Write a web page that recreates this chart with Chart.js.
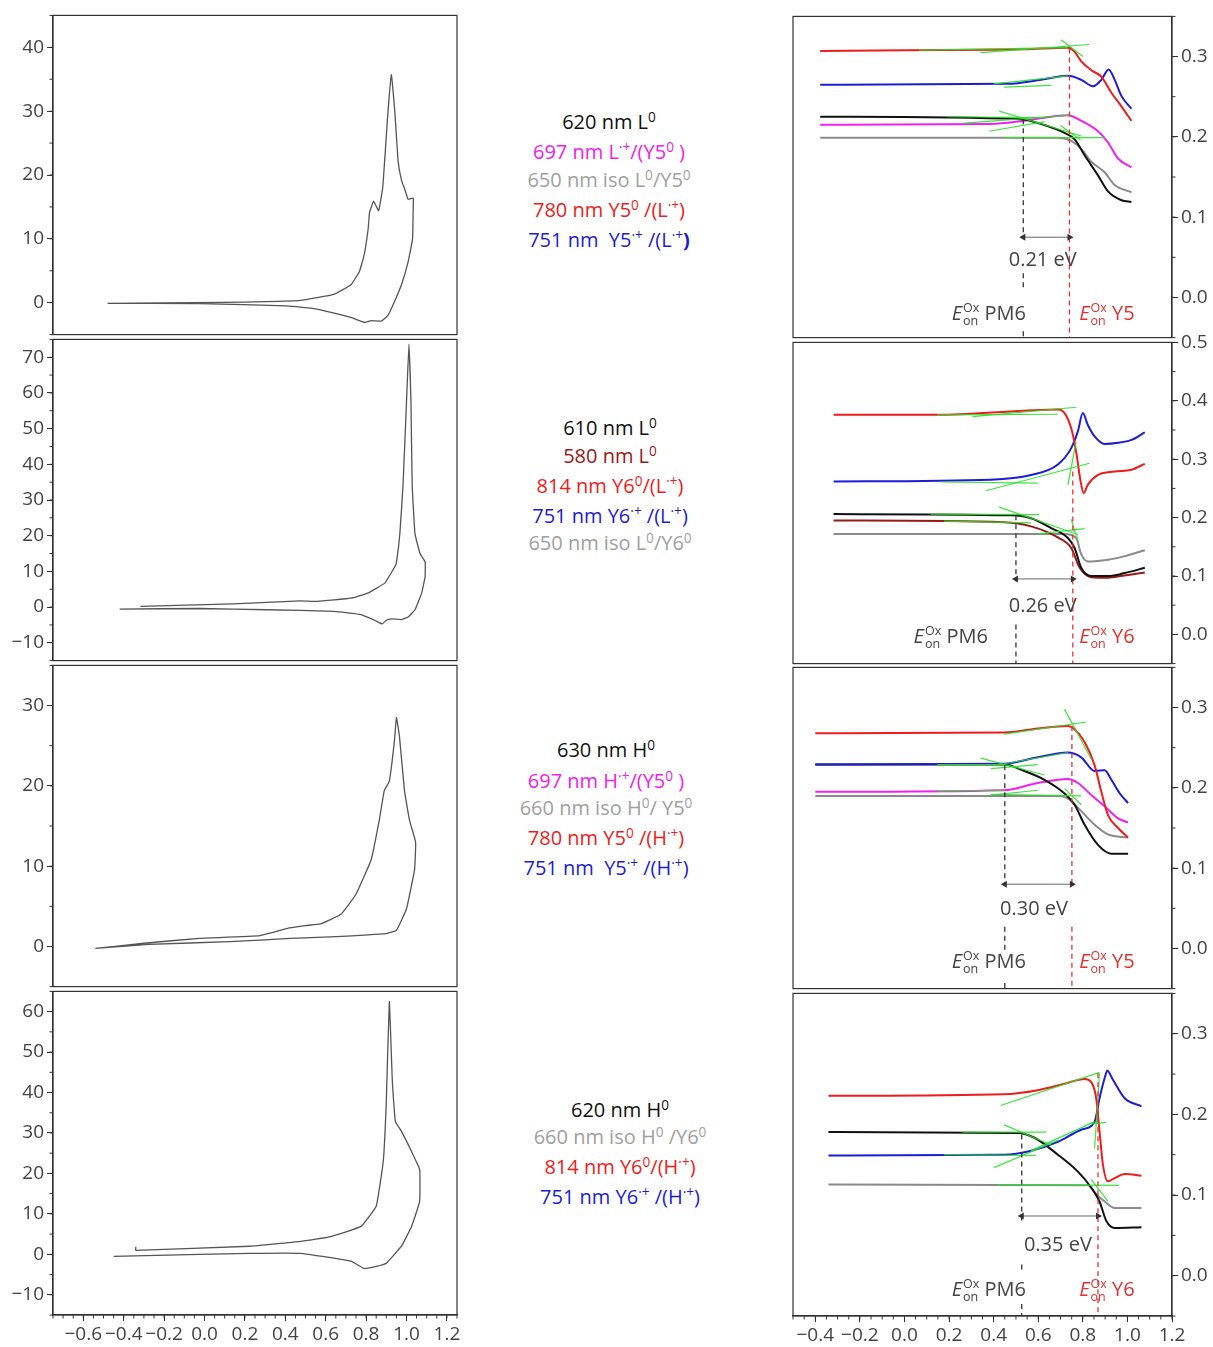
<!DOCTYPE html>
<html>
<head>
<meta charset="utf-8">
<script src="https://cdn.jsdelivr.net/npm/chart.js@4.4.1/dist/chart.umd.min.js"></script>
<style>
body { margin: 0; background: #fff; width: 1213px; height: 1347px; position: relative; overflow: hidden; font-family: "Open Sans", sans-serif; }
canvas { position: absolute; }
.lg { position: absolute; width: 300px; text-align: center; font-size: 20px; line-height: 28px; white-space: nowrap; }
.lg sup { font-size: 0.68em; vertical-align: 0; position: relative; top: -0.55em; line-height: 0; }
</style>
</head>
<body>
<script>
// ---- CV curves (left column), [potential V, current] ----
const cvRow1 = [[-0.48,-0.1],[-0.2,-0.05],[0.1,0.05],[0.3,0.15],[0.475,0.35],[0.64,1.3],[0.725,2.8],[0.767,4.9],[0.79,7.4],[0.81,11.5],[0.817,14.1],[0.837,15.9],[0.862,14.4],[0.883,18.2],[0.905,28.5],[0.925,35.7],[0.942,30],[0.958,22.3],[0.975,19.2],[0.992,17.7],[1.008,16.2],[1.033,16.4],[1.033,14.6],[1.03,10],[1.008,6.4],[0.975,2.8],[0.942,0.26],[0.908,-2.0],[0.875,-2.9],[0.825,-2.8],[0.792,-3.1],[0.725,-2.3],[0.558,-1.0],[0.408,-0.5],[-0.025,-0.15],[-0.48,-0.1]];
const cvRow2 = [[-0.317,0.2],[0.142,0.9],[0.475,1.75],[0.558,1.6],[0.725,2.5],[0.808,3.9],[0.892,6.7],[0.942,11.3],[0.95,12.4],[0.967,20.5],[0.983,34.4],[1.0,57.5],[1.012,73.7],[1.022,57.5],[1.028,34.4],[1.042,20.5],[1.067,15],[1.092,12.7],[1.092,8.5],[1.075,3.9],[1.042,-0.75],[1.008,-2.8],[0.975,-3.5],[0.925,-3.3],[0.9,-3.7],[0.88,-4.7],[0.842,-3.7],[0.775,-2.1],[0.642,-1.2],[0.308,-0.75],[-0.025,-0.4],[-0.42,-0.55]];
const cvRow3 = [[-0.54,-0.25],[-0.3,0.4],[-0.025,1.0],[0.275,1.35],[0.42,2.3],[0.5,2.6],[0.575,2.8],[0.675,4.0],[0.75,6.5],[0.825,10.8],[0.865,15.7],[0.89,19.4],[0.915,20.6],[0.94,25.5],[0.95,28.5],[0.965,26.2],[0.99,19.4],[1.015,15.7],[1.045,13.0],[1.04,9.6],[1.0,4.7],[0.95,2.0],[0.9,1.6],[0.625,1.2],[0.425,1.0],[0.125,0.6],[-0.275,0.25],[-0.54,-0.25]];
const cvRow4 = [[-0.34,1.9],[-0.34,1.0],[0.225,2.0],[0.475,3.2],[0.625,4.4],[0.775,6.9],[0.85,11.9],[0.885,23],[0.9,37.8],[0.915,62.5],[0.93,42.7],[0.945,32.8],[0.975,30.4],[1.025,25.4],[1.065,21.0],[1.065,13.1],[1.025,6.9],[0.975,2.0],[0.9,-2.2],[0.85,-3.0],[0.79,-3.5],[0.725,-1.7],[0.475,0.25],[0.225,0.25],[-0.025,0],[-0.45,-0.5]];
const cvRanges = [[-5,45],[-15,75],[-5,35],[-15,65]];
const cvTicks = [[0,10,20,30,40],[-10,0,10,20,30,40,50,60,70],[0,10,20,30],[-10,0,10,20,30,40,50,60]];
const cvXTicks = [-0.6,-0.4,-0.2,0.0,0.2,0.4,0.6,0.8,1.0,1.2];

// ---- absorbance vs potential (right column) ----
const r1Red = [[-0.378,0.307],[0.0,0.308],[0.537,0.309],[0.733,0.311],[0.763,0.306],[0.793,0.294],[0.838,0.283],[0.883,0.275],[0.928,0.255],[0.973,0.238],[1.018,0.220]];
const r1Blue = [[-0.378,0.265],[0.463,0.266],[0.613,0.271],[0.733,0.276],[0.793,0.271],[0.846,0.263],[0.883,0.271],[0.916,0.284],[0.943,0.271],[0.973,0.251],[1.018,0.235]];
const r1Black = [[-0.378,0.225],[0.523,0.222],[0.613,0.216],[0.718,0.205],[0.763,0.197],[0.808,0.177],[0.868,0.152],[0.913,0.132],[0.973,0.121],[1.018,0.119]];
const r1Magenta = [[-0.378,0.215],[0.387,0.216],[0.537,0.220],[0.733,0.227],[0.793,0.220],[0.868,0.207],[0.913,0.193],[0.958,0.173],[1.018,0.162]];
const r1Gray = [[-0.378,0.199],[0.688,0.199],[0.748,0.195],[0.793,0.185],[0.838,0.169],[0.898,0.156],[0.943,0.140],[1.018,0.131]];

const r2Red = [[-0.318,0.376],[0.147,0.376],[0.537,0.383],[0.688,0.385],[0.718,0.379],[0.748,0.353],[0.770,0.313],[0.79,0.262],[0.804,0.242],[0.822,0.256],[0.868,0.273],[0.943,0.279],[1.018,0.282],[1.078,0.292]];
const r2Blue = [[-0.318,0.262],[0.387,0.265],[0.568,0.273],[0.688,0.291],[0.748,0.319],[0.778,0.348],[0.80,0.379],[0.822,0.359],[0.853,0.339],[0.898,0.326],[0.958,0.328],[1.018,0.333],[1.078,0.346]];
const r2Black = [[-0.318,0.206],[0.477,0.204],[0.568,0.199],[0.658,0.182],[0.733,0.165],[0.763,0.148],[0.793,0.114],[0.838,0.1],[0.913,0.1],[0.988,0.105],[1.078,0.114]];
const r2DarkRed = [[-0.318,0.195],[0.447,0.192],[0.568,0.185],[0.688,0.166],[0.748,0.148],[0.786,0.114],[0.838,0.098],[0.913,0.097],[0.988,0.101],[1.078,0.106]];
const r2Gray = [[-0.318,0.172],[0.718,0.172],[0.770,0.165],[0.793,0.137],[0.822,0.125],[0.913,0.128],[0.988,0.134],[1.078,0.144]];

const r3Red = [[-0.40,0.268],[0.447,0.269],[0.598,0.274],[0.733,0.277],[0.763,0.273],[0.808,0.257],[0.853,0.228],[0.883,0.195],[0.913,0.166],[0.958,0.150],[1.003,0.138]];
const r3Blue = [[-0.40,0.229],[0.447,0.230],[0.598,0.238],[0.733,0.244],[0.793,0.238],[0.853,0.221],[0.898,0.222],[0.928,0.210],[0.966,0.193],[1.003,0.181]];
const r3Black = [[-0.40,0.229],[0.447,0.229],[0.537,0.221],[0.628,0.210],[0.718,0.193],[0.763,0.179],[0.808,0.154],[0.868,0.129],[0.928,0.118],[1.003,0.118]];
const r3Magenta = [[-0.40,0.195],[0.447,0.197],[0.598,0.206],[0.733,0.211],[0.778,0.206],[0.838,0.191],[0.898,0.177],[0.958,0.162],[1.003,0.157]];
const r3Gray = [[-0.40,0.190],[0.688,0.190],[0.733,0.187],[0.793,0.171],[0.853,0.154],[0.913,0.142],[1.003,0.138]];

const r4Red = [[-0.341,0.223],[0.447,0.225],[0.598,0.230],[0.718,0.238],[0.808,0.244],[0.838,0.240],[0.860,0.220],[0.875,0.179],[0.890,0.138],[0.913,0.117],[0.943,0.121],[0.988,0.126],[1.063,0.124]];
const r4Blue = [[-0.341,0.149],[0.447,0.150],[0.568,0.155],[0.688,0.166],[0.793,0.181],[0.853,0.191],[0.875,0.220],[0.898,0.245],[0.910,0.254],[0.935,0.243],[0.988,0.220],[1.063,0.210]];
const r4Black = [[-0.341,0.178],[0.508,0.177],[0.583,0.171],[0.688,0.150],[0.778,0.129],[0.838,0.109],[0.875,0.092],[0.905,0.068],[0.943,0.059],[1.063,0.060]];
const r4Gray = [[-0.341,0.113],[0.823,0.112],[0.860,0.101],[0.898,0.092],[0.943,0.084],[1.063,0.084]];

// green tangent lines, [[x1,y1],[x2,y2]]
const r1Tangents = [[[0.342,0.305],[0.830,0.315]],[[0.703,0.321],[0.80,0.300]],[[0.065,0.308],[0.733,0.311]],[[0.447,0.262],[0.658,0.264]],[[0.40,0.266],[0.733,0.276]],[[0.192,0.225],[0.628,0.224]],[[0.425,0.232],[0.793,0.201]],[[0.380,0.207],[0.628,0.219]],[[0.267,0.217],[0.748,0.227]],[[0.447,0.199],[0.898,0.199]],[[0.70,0.214],[0.79,0.196]]];
const r2Tangents = [[[0.147,0.376],[0.688,0.377]],[[0.305,0.373],[0.770,0.389]],[[0.162,0.261],[0.598,0.259]],[[0.365,0.246],[0.830,0.293]],[[0.733,0.256],[0.770,0.330]],[[0.117,0.206],[0.605,0.205]],[[0.425,0.218],[0.778,0.171]],[[0.177,0.194],[0.568,0.191]],[[0.598,0.172],[0.808,0.181]],[[0.748,0.197],[0.778,0.160]]];
const r3Tangents = [[[0.447,0.267],[0.815,0.282]],[[0.718,0.298],[0.838,0.236]],[[0.342,0.237],[0.628,0.216]],[[0.387,0.224],[0.598,0.229]],[[0.147,0.229],[0.447,0.229]],[[0.387,0.192],[0.793,0.190]],[[0.387,0.191],[0.598,0.197]],[[0.718,0.199],[0.793,0.179]],[[0.447,0.230],[0.733,0.244]],[[0.147,0.196],[0.447,0.197]]];
const r4Tangents = [[[0.432,0.211],[0.875,0.252]],[[0.853,0.158],[0.875,0.251]],[[0.447,0.187],[0.658,0.162]],[[0.26,0.178],[0.635,0.178]],[[0.402,0.134],[0.688,0.168]],[[0.177,0.150],[0.590,0.149]],[[0.838,0.188],[0.905,0.190]],[[0.417,0.113],[0.963,0.112]],[[0.838,0.119],[0.913,0.092]],[[0.568,0.155],[0.853,0.191]]];

// onset potentials and the gap annotation
const pm6Onset = [0.533, 0.50, 0.45, 0.526];
const accOnset = [0.740, 0.755, 0.751, 0.868];
const pm6DashY = [[[0.222,0.074],[0.03,0.008],[-0.042,-0.05]], [[0.204,0.091],[0.017,-0.05]], [[0.228,0.080],[0.027,-0.006],[-0.043,-0.05]], [[0.175,0.064],[0.014,0.006],[-0.035,-0.05]]];
const accDashY = [[[0.31,-0.05]], [[0.279,-0.05]], [[0.277,0.080],[0.027,-0.05]], [[0.251,-0.05]]];
const arrowY = [0.075, 0.095, 0.080, 0.074];
const gapLabels = ['0.21 eV', '0.26 eV', '0.30 eV', '0.35 eV'];
const gapLabelPos = [[0.620,0.046],[0.620,0.048],[0.581,0.049],[0.688,0.038]];
const pm6LabelPos = [[0.545,-0.019],[0.374,-0.003],[0.545,-0.016],[0.545,-0.016]];
const accNames = ['Y5', 'Y6', 'Y5', 'Y6'];
const accLabelX = 0.784;
const specRanges = [[-0.05,0.35],[-0.05,0.5],[-0.05,0.35],[-0.05,0.35]];
const specTicks = [[0,0.1,0.2,0.3],[0,0.1,0.2,0.3,0.4,0.5],[0,0.1,0.2,0.3],[0,0.1,0.2,0.3]];
const specXTicks = [-0.4,-0.2,0.0,0.2,0.4,0.6,0.8,1.0,1.2];

const RED = '#ee1c1c', BLUE = '#1c1cd8', BLACK = '#111', MAGENTA = '#f020f0', GRAY = '#8a8a8a', DARKRED = '#9a1818';
const GREEN = 'rgba(40,225,40,0.9)';

const specCurves = [
    [[r1Gray, GRAY], [r1Magenta, MAGENTA], [r1Black, BLACK], [r1Blue, BLUE], [r1Red, RED]],
    [[r2Gray, GRAY], [r2DarkRed, DARKRED], [r2Black, BLACK], [r2Blue, BLUE], [r2Red, RED]],
    [[r3Gray, GRAY], [r3Magenta, MAGENTA], [r3Black, BLACK], [r3Blue, BLUE], [r3Red, RED]],
    [[r4Gray, GRAY], [r4Black, BLACK], [r4Blue, BLUE], [r4Red, RED]]
];
const specTangents = [r1Tangents, r2Tangents, r3Tangents, r4Tangents];
const cvData = [cvRow1, cvRow2, cvRow3, cvRow4];

// middle legend lines: [center y, center x, colour, html]
const legendLines = [
    [122, 609, BLACK, '620 nm L<sup>0</sup>'],
    [152, 609, MAGENTA, '697 nm L<sup>·+</sup>/(Y5<sup>0</sup> )'],
    [180, 609, '#a0a0a0', '650 nm iso L<sup>0</sup>/Y5<sup>0</sup>'],
    [210, 609, RED, '780 nm Y5<sup>0</sup> /(L<sup>·+</sup>)'],
    [240, 609, BLUE, '751 nm&nbsp; Y5<sup>·+</sup> /(L<sup>·+</sup><b>)</b>'],
    [428, 610, BLACK, '610 nm L<sup>0</sup>'],
    [456, 610, DARKRED, '580 nm L<sup>0</sup>'],
    [486, 610, RED, '814 nm Y6<sup>0</sup>/(L<sup>·+</sup>)'],
    [516, 610, BLUE, '751 nm Y6<sup>·+</sup> /(L<sup>·+</sup>)'],
    [543, 610, '#a0a0a0', '650 nm iso L<sup>0</sup>/Y6<sup>0</sup>'],
    [750, 606, BLACK, '630 nm H<sup>0</sup>'],
    [781, 606, MAGENTA, '697 nm H<sup>·+</sup>/(Y5<sup>0</sup> )'],
    [808, 606, '#a0a0a0', '660 nm iso H<sup>0</sup>/ Y5<sup>0</sup>'],
    [838, 606, RED, '780 nm Y5<sup>0</sup> /(H<sup>·+</sup>)'],
    [868, 606, BLUE, '751 nm&nbsp; Y5<sup>·+</sup> /(H<sup>·+</sup>)'],
    [1110, 620, BLACK, '620 nm H<sup>0</sup>'],
    [1137, 620, '#a0a0a0', '660 nm iso H<sup>0</sup> /Y6<sup>0</sup>'],
    [1167, 620, RED, '814 nm Y6<sup>0</sup>/(H<sup>·+</sup>)'],
    [1197, 620, BLUE, '751 nm Y6<sup>·+</sup> /(H<sup>·+</sup>)']
];

const leftFrames = [[12.7,336.7],[336.7,663],[663,989],[989,1315]];
const rightFrames = [[14,339.5],[339.5,665],[665,990.5],[990.5,1315]];
const TICK_FONT = { family: '"Open Sans", sans-serif', size: 19 };

legendLines.forEach(l => {
    const d = document.createElement('div');
    d.className = 'lg';
    d.style.top = (l[0] - 14) + 'px';
    d.style.left = (l[1] - 150) + 'px';
    d.style.color = l[2];
    d.innerHTML = l[3];
    document.body.appendChild(d);
});

function addCanvas(left, top, w, h) {
    const c = document.createElement('canvas');
    c.width = w; c.height = h;
    c.style.left = left + 'px';
    c.style.top = top + 'px';
    document.body.appendChild(c);
    return c;
}

function fmt1(v) {
    if (Math.abs(v) < 1e-9) return '0.0';
    return (v < 0 ? '\u2212' : '') + Math.abs(v).toFixed(1);
}
function fmtInt(v) {
    return (v < 0 ? '\u2212' : '') + Math.abs(Math.round(v));
}

// frame + minor ticks
const framePlugin = {
    id: 'frame',
    afterDraw(chart, args, opts) {
        const ctx = chart.ctx, a = chart.chartArea;
        ctx.save();
        ctx.strokeStyle = '#333';
        ctx.lineWidth = 1.2;
        ctx.strokeRect(a.left, a.top, a.right - a.left, a.bottom - a.top);
        ctx.lineWidth = 1;
        const ys = chart.scales.y;
        if (opts.yStep) {
            for (let k = Math.ceil(ys.min / opts.yStep - 1e-9); k * opts.yStep <= ys.max + 1e-9; k++) {
                const py = ys.getPixelForValue(k * opts.yStep);
                ctx.beginPath();
                if (opts.side === 'left') { ctx.moveTo(a.left, py); ctx.lineTo(a.left - 3.5, py); }
                else { ctx.moveTo(a.right, py); ctx.lineTo(a.right + 3.5, py); }
                ctx.stroke();
            }
        }
        const xs = chart.scales.x;
        if (opts.xStep) {
            for (let k = Math.ceil(xs.min / opts.xStep - 1e-9); k * opts.xStep <= xs.max + 1e-9; k++) {
                const px = xs.getPixelForValue(k * opts.xStep);
                ctx.beginPath();
                ctx.moveTo(px, a.bottom); ctx.lineTo(px, a.bottom + 3.5);
                ctx.stroke();
            }
        }
        ctx.restore();
    }
};

function drawOnset(ctx, px, py, name, color, alignRight) {
    ctx.save();
    ctx.fillStyle = color;
    ctx.textBaseline = 'alphabetic';
    ctx.textAlign = 'left';
    const big = '20px "Open Sans", sans-serif';
    const it = 'italic 20px "Open Sans", sans-serif';
    const small = '12.5px "Open Sans", sans-serif';
    ctx.font = it; const wE = ctx.measureText('E').width;
    ctx.font = small; const wS = Math.max(ctx.measureText('Ox').width, ctx.measureText('on').width);
    ctx.font = big; const wN = ctx.measureText(' ' + name).width;
    let x = alignRight ? px - (wE + wS + wN + 1) : px;
    const base = py + 7;
    ctx.font = it; ctx.fillText('E', x, base); x += wE + 1;
    ctx.font = small; ctx.fillText('Ox', x, base - 8); ctx.fillText('on', x, base + 5); x += wS;
    ctx.font = big; ctx.fillText(' ' + name, x, base);
    ctx.restore();
}

const notesPlugin = {
    id: 'notes',
    afterDatasetsDraw(chart, args, opts) {
        if (opts.row === undefined) return;
        const i = opts.row, ctx = chart.ctx;
        const xs = chart.scales.x, ys = chart.scales.y;
        ctx.save();
        ctx.fillStyle = '#444';
        ctx.font = '20px "Open Sans", sans-serif';
        ctx.textAlign = 'center';
        ctx.textBaseline = 'middle';
        ctx.fillText(gapLabels[i], xs.getPixelForValue(gapLabelPos[i][0]), ys.getPixelForValue(gapLabelPos[i][1]));
        ctx.restore();
        drawOnset(ctx, xs.getPixelForValue(pm6LabelPos[i][0]), ys.getPixelForValue(pm6LabelPos[i][1]), 'PM6', '#444', true);
        drawOnset(ctx, xs.getPixelForValue(accLabelX), ys.getPixelForValue(pm6LabelPos[i][1]), accNames[i], '#e23030', false);
    }
};

Chart.register(framePlugin, notesPlugin);

function pts(arr) { return arr.map(p => ({ x: p[0], y: p[1] })); }
function fixedTicks(values) {
    return function (scale) { scale.ticks = values.map(v => ({ value: v })); };
}

function cvChart(i) {
    const [t, b] = leftFrames[i];
    const last = i === 3;
    const padT = 12, xH = 34;
    const h = Math.round((b - t) + padT + (last ? xH : 12));
    const cv = addCanvas(0, t - padT, 470, h);
    new Chart(cv, {
        type: 'scatter',
        data: {
            datasets: [{
                data: pts(cvData[i]),
                showLine: true,
                borderColor: '#555',
                borderWidth: 1.3,
                pointRadius: 0,
                tension: 0.1
            }]
        },
        options: {
            responsive: false,
            animation: false,
            events: [],
            layout: { padding: { top: padT, right: 13, bottom: last ? 0 : 12, left: 0 } },
            plugins: {
                legend: { display: false },
                tooltip: { enabled: false },
                frame: { side: 'left', yStep: 5, xStep: last ? 0.05 : 0 }
            },
            scales: {
                x: {
                    type: 'linear', min: -0.75, max: 1.25, display: last,
                    grid: { drawOnChartArea: false, tickLength: 6, color: '#333' },
                    border: { color: '#333', width: 1.2 },
                    afterBuildTicks: fixedTicks(cvXTicks),
                    ticks: { autoSkip: false, maxRotation: 0, padding: 2, color: '#444', font: TICK_FONT, callback: v => fmt1(v) },
                    afterFit(s) { s.height = last ? xH : 0; }
                },
                y: {
                    min: cvRanges[i][0], max: cvRanges[i][1],
                    grid: { drawOnChartArea: false, tickLength: 6, color: '#333' },
                    border: { color: '#333', width: 1.2 },
                    afterBuildTicks: fixedTicks(cvTicks[i]),
                    ticks: { padding: 3, color: '#444', font: TICK_FONT, callback: v => fmtInt(v) },
                    afterFit(s) { s.width = 53; }
                }
            }
        }
    });
}

function specChart(i) {
    const [t, b] = rightFrames[i];
    const last = i === 3;
    const padT = 12, xH = 34;
    const h = Math.round((b - t) + padT + (last ? xH : 12));
    const cv = addCanvas(780, t - padT, 433, h);

    // bottom-to-top drawing order, reversed at the end (Chart.js draws index 0 last)
    const sets = [];
    specCurves[i].forEach(c => sets.push({
        data: pts(c[0]), showLine: true, borderColor: c[1], borderWidth: 2, pointRadius: 0,
        cubicInterpolationMode: 'monotone'
    }));
    specTangents[i].forEach(seg => sets.push({
        data: pts(seg), showLine: true, borderColor: GREEN, borderWidth: 1.2, pointRadius: 0
    }));
    const blackDash = [];
    pm6DashY[i].forEach(s => { blackDash.push({ x: pm6Onset[i], y: s[0] }, { x: pm6Onset[i], y: s[1] }, { x: pm6Onset[i], y: null }); });
    sets.push({ data: blackDash, showLine: true, spanGaps: false, borderColor: '#333', borderWidth: 1.3, borderDash: [5, 4], pointRadius: 0 });
    const redDash = [];
    accDashY[i].forEach(s => { redDash.push({ x: accOnset[i], y: s[0] }, { x: accOnset[i], y: s[1] }, { x: accOnset[i], y: null }); });
    sets.push({ data: redDash, showLine: true, spanGaps: false, borderColor: '#e83030', borderWidth: 1.3, borderDash: [5, 4], pointRadius: 0 });
    sets.push({
        data: [{ x: pm6Onset[i], y: arrowY[i] }, { x: accOnset[i], y: arrowY[i] }],
        showLine: true, borderColor: '#666', borderWidth: 1,
        pointStyle: 'triangle', pointRadius: 4, pointRotation: [270, 90],
        pointBackgroundColor: '#333', pointBorderWidth: 0
    });
    sets.reverse();

    new Chart(cv, {
        type: 'scatter',
        data: { datasets: sets },
        options: {
            responsive: false,
            animation: false,
            events: [],
            layout: { padding: { top: padT, right: 0, bottom: last ? 0 : 12, left: 13 } },
            plugins: {
                legend: { display: false },
                tooltip: { enabled: false },
                frame: { side: 'right', yStep: 0.05, xStep: last ? 0.05 : 0 },
                notes: { row: i }
            },
            scales: {
                x: {
                    type: 'linear', min: -0.5, max: 1.2, display: last,
                    grid: { drawOnChartArea: false, tickLength: 6, color: '#333' },
                    border: { color: '#333', width: 1.2 },
                    afterBuildTicks: fixedTicks(specXTicks),
                    ticks: { autoSkip: false, maxRotation: 0, padding: 2, color: '#444', font: TICK_FONT, callback: v => fmt1(v) },
                    afterFit(s) { s.height = last ? xH : 0; }
                },
                y: {
                    position: 'right',
                    min: specRanges[i][0], max: specRanges[i][1],
                    grid: { drawOnChartArea: false, tickLength: 6, color: '#333' },
                    border: { color: '#333', width: 1.2 },
                    afterBuildTicks: fixedTicks(specTicks[i]),
                    ticks: { padding: 3, color: '#444', font: TICK_FONT, callback: v => fmt1(v) },
                    afterFit(s) { s.width = 41; }
                }
            }
        }
    });
}

for (let i = 0; i < 4; i++) {
    cvChart(i);
    specChart(i);
}
</script>
</body>
</html>
